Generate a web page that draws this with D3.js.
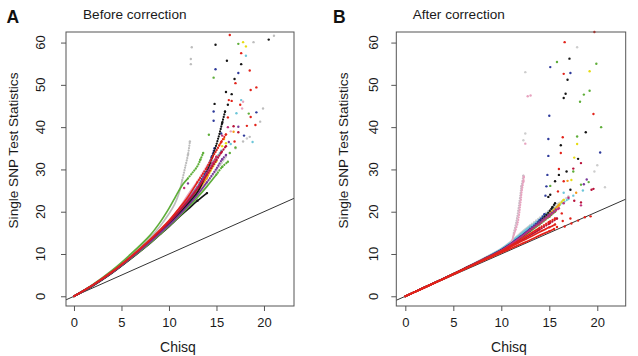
<!DOCTYPE html>
<html><head><meta charset="utf-8">
<script src="https://cdn.jsdelivr.net/npm/d3@7/dist/d3.min.js"></script>
<style>
html,body{margin:0;padding:0;background:#fff;}
svg{display:block;font-family:"Liberation Sans",Arial,Helvetica,sans-serif;}
</style></head><body>
<svg id="chart" width="638" height="356"></svg>
<script>
// ---------- labels / ticks ----------
const panelLetters = ["A", "B"];
const panelTitles = ["Before correction", "After correction"];
const xLabel = "Chisq";
const yLabel = "Single SNP Test Statistics";
const xTicks = [0, 5, 10, 15, 20];
const yTicks = [0, 10, 20, 30, 40, 50, 60];
const refLine = [[-5, -5], [30, 30]]; // y = x

// ---------- Panel A (before correction): [chisq, statistic] ----------
const A_green1_curve = [[0,0],[2,2.8],[4,6.1],[6,10.0],[8,14.4],[9,17.3],[10,20.8],[10.5,22.8],[11,24.8],[11.5,26.6],[12,27.9],[12.5,29.3],[13,30.8],[13.3,32.3],[13.6,33.9]];
const A_green1_tail = [[14.2,38.2],[14.7,51.7],[17.3,59.7]];
const A_green2_curve = [[0,0],[2,2.6],[4,5.6],[6,9.0],[8,12.6],[9,14.6],[10,16.6],[11,18.7],[12,21.0],[13,23.4],[14,26.0],[15,28.8],[15.6,30.6],[16.2,31.8]];
const A_green2_tail = [[16.4,33.9],[17.0,35.2],[18.4,43.2]];
const A_gray_curve = [[0,0],[2,2.7],[4,5.9],[6,9.6],[8,13.8],[9,16.4],[10,19.5],[10.6,21.8],[11,24.0],[11.4,27.5],[11.7,30.5],[12.0,33.5],[12.2,36.6]];
const A_gray_tail = [[12.3,54.9],[12.3,56.1],[12.4,58.9],[18.9,60.1],[21.05,61.6],[19.9,44.4],[19.6,41.3],[18.5,37.7],[17.8,36.6]];
const A_black_curve = [[0,0],[2,2.6],[4,5.7],[6,9.2],[8,13.0],[9,15.0],[10,17.1],[11,19.3],[12,21.8],[13,24.6],[13.8,28.3],[14.2,30.5],[14.7,33.8],[15.2,37.5],[15.6,41.0],[15.9,43.7]];
const A_black_tail = [[14.8,45.5],[16.2,45.3],[16.0,48.3],[16.6,47.8],[16.9,51.4],[17.6,54.9],[16.1,55.7],[14.9,59.5],[20.5,60.7]];
const A_black2_curve = [[0,0],[2,2.5],[4,5.5],[6,8.9],[8,12.5],[9,14.5],[10,16.5],[11,18.6],[12,20.6],[13,22.6],[14,24.4]];
const A_black2_tail = [];
const A_red1_curve = [[0,0],[2,2.7],[4,5.8],[6,9.4],[8,13.4],[9,15.6],[10,17.9],[11,20.6],[12,23.5],[13,27.0],[14,30.5],[14.6,33.0],[15,34.5],[15.5,36.5],[16,38.3]];
const A_red1_tail = [[16.4,61.8],[17.6,57.5],[18.5,53.4],[17.0,50.4],[19.2,49.4],[18.6,48.8],[16.3,46.4],[16.6,46.2],[17.5,45.3],[18.6,42.4],[16.2,42.3],[18.2,40.3],[19.1,40.5],[16.9,36.6]];
const A_red2_curve = [[0,0],[2,2.65],[4,5.7],[6,9.3],[8,13.2],[9,15.3],[10,17.5],[11,19.9],[12,22.5],[13,25.4],[14,28.8],[15,32.2],[15.5,34.0],[16,35.5]];
const A_red2_tail = [[16.8,40.2],[17.3,38.8]];
const A_blue_curve = [[0,0],[2,2.6],[4,5.6],[6,9.1],[8,12.9],[9,14.9],[10,17.0],[11,19.4],[12,22.2],[13,25.6],[13.5,27.8],[14,30.0],[14.5,33.0],[14.8,35.0]];
const A_blue_tail = [[14.7,41.5],[14.7,43.7],[14.9,53.7],[17.3,52.8],[19.2,43.5],[15.5,38.5],[17.9,38.0]];
const A_purple_curve = [[0,0],[2,2.6],[4,5.6],[6,9.1],[8,12.8],[9,14.8],[10,16.8],[11,19.0],[12,21.4],[13,24.0],[14,27.0],[15,30.2],[15.6,32.4],[16,33.4]];
const A_purple_tail = [[17.3,40.1],[16.3,36.5],[12.0,26.7]];
const A_magenta_curve = [[0,0],[2,2.7],[4,5.8],[6,9.4],[8,13.3],[9,15.4],[10,17.6],[11,20.0],[12,22.8],[13,25.8],[14,29.2],[14.6,31.5],[15,33.0]];
const A_magenta_tail = [[15.6,38.0],[16.2,40.0],[11.6,25.6]];
const A_orange_curve = [[0,0],[2,2.6],[4,5.6],[6,9.1],[8,12.8],[9,14.8],[10,16.9],[11,19.1],[12,21.6],[13,24.6],[14,28.0],[14.5,30.5],[15,33.0]];
const A_orange_tail = [[15.3,35.8],[16.8,38.9],[15.8,37.2]];
const A_yellow_curve = [[0,0],[2,2.6],[4,5.6],[6,9.0],[8,12.7],[9,14.6],[10,16.7],[11,19.2],[12,22.2],[13,25.0],[14,28.2],[15,32.0]];
const A_yellow_tail = [[15.6,35.5],[16.0,36.2],[17.8,60.1],[18.1,59.1]];
const A_cyan_curve = [[0,0],[2,2.7],[4,5.9],[6,9.5],[8,13.3],[9,15.3],[10,17.4],[11,20.0],[12,23.0],[13,26.0],[14,29.5],[15,32.8],[15.5,34.4]];
const A_cyan_tail = [[18.1,56.9],[17.6,46.4],[17.1,43.3],[18.8,36.5],[16.5,36.0]];
const A_pink_curve = [[0,0],[2,2.7],[4,5.8],[6,9.4],[8,13.3],[9,15.4],[10,17.7],[11,20.6],[12,24.0],[13,27.2],[14,30.8],[14.6,33.0]];
const A_pink_tail = [[17.8,46.0],[17.7,44.4],[16.5,39.0]];
const A_lgray_curve = [[0,0],[2,2.6],[4,5.6],[6,9.0],[8,12.6],[9,14.5],[10,16.6],[11,18.9],[12,21.5],[13,24.0],[14,26.8],[15,29.8],[16,33.0]];
const A_lgray_tail = [[18.2,37.3],[17.0,35.0]];

// ---------- Panel B (after correction) ----------
const B_red1_curve = [[0,0],[2,2.05],[4,4.1],[6,6.2],[8,8.3],[10,10.3],[11,11.3],[12,12.3],[13,13.3],[14,14.4],[15,15.4],[15.5,15.9]];
const B_red1_tail = [[15.8,16.4],[16.6,16.5],[17.3,17.2],[18.0,17.9],[18.7,18.7],[19.3,18.9]];
const B_red2_curve = [[0,0],[2,2.05],[4,4.15],[6,6.3],[8,8.4],[10,10.5],[11,11.7],[12,12.9],[13,14.0],[14,15.2],[15,16.3],[15.6,17.0]];
const B_red2_tail = [[16.4,17.8],[17.2,18.4]];
const B_red3_curve = [[0,0],[2,2.1],[4,4.2],[6,6.3],[8,8.5],[10,10.7],[11,12.0],[12,13.4],[13,14.8],[14,16.2],[15,17.6],[15.6,18.4]];
const B_red3_tail = [[16.3,19.6],[16.5,52.6],[16.6,60.1],[19.7,62.5],[19.6,43.1],[16.4,37.6],[16.2,33.9],[16.0,30.1],[16.5,27.2],[15.9,24.8]];
const B_crimson_curve = [[0,0],[2,2.1],[4,4.2],[6,6.3],[8,8.45],[10,10.6],[11,11.8],[12,13.1],[13,14.4],[14,15.8],[15,17.2],[15.8,18.4]];
const B_crimson_tail = [[17.6,22.6],[18.3,22.2],[19.4,25.2],[19.6,25.4],[17.5,30.2],[18.3,31.5]];
const B_black_curve = [[0,0],[2,2.1],[4,4.2],[6,6.4],[8,8.6],[10,10.9],[11,12.3],[12,13.9],[13,15.6],[14,17.6],[14.8,19.5],[15.3,21.0],[15.6,22.0]];
const B_black_tail = [[16.7,47.9],[16.5,46.9],[17.1,56.2],[16.9,51.2],[18.8,38.8],[16.2,35.7],[18.0,32.5],[16.8,29.5],[16.0,28.7],[15.6,27.2],[17.2,25.2],[14.9,23.5],[15.1,24.0]];
const B_blue_curve = [[0,0],[2,2.1],[4,4.2],[6,6.35],[8,8.6],[10,11.0],[11,12.5],[12,14.2],[13,16.0],[14,18.0],[14.5,19.4]];
const B_blue_tail = [[15.1,54.2],[17.2,52.8],[15.0,42.7],[14.9,37.2],[14.9,33.2],[20.3,34.0],[14.8,28.7],[14.7,26.0],[14.6,23.8]];
const B_green_curve = [[0,0],[2,2.1],[4,4.2],[6,6.3],[8,8.5],[10,10.8],[11,12.2],[12,13.7],[13,15.3],[14,17.0],[15,18.8],[15.6,20.0]];
const B_green_tail = [[15.8,55.4],[19.9,55.0],[19.2,48.6],[18.6,47.7],[18.2,46.0],[20.4,40.0],[17.9,37.8],[17.5,29.5],[18.3,26.4],[19.1,27.0],[15.1,26.1]];
const B_yellow_curve = [[0,0],[2,2.1],[4,4.2],[6,6.3],[8,8.5],[10,10.8],[11,12.2],[12,13.8],[13,15.5],[14,17.3],[15,19.4],[16,21.6],[16.5,22.8]];
const B_yellow_tail = [[19.2,53.2],[17.9,36.0],[17.6,32.8],[17.3,27.5]];
const B_orange_curve = [[0,0],[2,2.1],[4,4.2],[6,6.35],[8,8.6],[10,10.9],[11,12.3],[12,13.9],[13,15.7],[14,17.6],[15,19.6],[16,21.5]];
const B_orange_tail = [[16.9,27.3],[17.8,24.5]];
const B_cyan_curve = [[0,0],[2,2.1],[4,4.25],[6,6.4],[8,8.7],[10,11.2],[11,12.8],[12,14.7],[13,16.5],[14,18.2],[15,20.0],[16,21.5],[17,23.0]];
const B_cyan_tail = [[17.5,23.8],[18.5,25.0],[16.5,24.5]];
const B_lgray_curve = [[0,0],[2,2.1],[4,4.25],[6,6.45],[8,8.8],[10,11.3],[11,13.0],[12,15.0],[13,16.8],[14,18.6],[15,20.3],[16,22.0],[17,23.6]];
const B_lgray_tail = [[17.9,58.9],[20.0,31.0],[20.8,25.8],[19.7,29.5],[12.5,53.0],[12.5,38.5],[12.3,36.9]];
const B_pink_curve = [[0,0],[2,2.1],[4,4.2],[6,6.4],[8,8.6],[10,10.7],[10.9,11.8],[11.25,14.1],[11.5,15.8],[11.7,17.3],[11.85,19.3],[11.95,21.2],[12.05,23.0],[12.1,24.4],[12.2,25.8],[12.3,27.2],[12.35,28.2]];
const B_pink_tail = [[12.5,36.1],[12.75,47.3],[13.05,47.5]];
const B_grayv_curve = [[0,0],[2,2.1],[4,4.2],[6,6.4],[8,8.7],[10,10.9],[11,12.6],[11.3,15.0],[11.6,18.0],[11.9,22.5],[12.1,26.0],[12.3,28.5]];
const B_grayv_tail = [];
const B_purple_curve = [[0,0],[2,2.1],[4,4.2],[6,6.35],[8,8.6],[10,10.9],[11,12.4],[12,14.0],[13,15.8],[14,17.6],[15,19.3],[15.7,20.5]];
const B_purple_tail = [[18.9,27.6],[18.6,26.5]];
const B_magenta_curve = [[0,0],[2,2.1],[4,4.2],[6,6.35],[8,8.55],[10,10.8],[11,12.3],[12,13.9],[13,15.6],[14,17.2],[15,19.0],[16,20.8]];
const B_magenta_tail = [[16.5,22.0],[17.0,23.3],[18.3,21.5]];

// ---------- colours ----------
const palette = {
  green: "#5fae3a", gray: "#bdbdbd", black: "#151515", red: "#e2231a", crimson: "#b8123a",
  blue: "#2e3a9a", purple: "#7a3a9a", magenta: "#c2307a", orange: "#f59a1b", yellow: "#e6dc12",
  cyan: "#6cc6d9", pink: "#e7a3bf", lgray: "#cdcdcd", grayv: "#cdb9c6"
};

// draw order (later on top)
const seriesA = [
  ["lgray", A_lgray_curve, A_lgray_tail], ["cyan", A_cyan_curve, A_cyan_tail],
  ["yellow", A_yellow_curve, A_yellow_tail], ["orange", A_orange_curve, A_orange_tail],
  ["pink", A_pink_curve, A_pink_tail], ["blue", A_blue_curve, A_blue_tail],
  ["black", A_black2_curve, A_black2_tail], ["green", A_green2_curve, A_green2_tail],
  ["gray", A_gray_curve, A_gray_tail], ["green", A_green1_curve, A_green1_tail],
  ["black", A_black_curve, A_black_tail], ["purple", A_purple_curve, A_purple_tail],
  ["magenta", A_magenta_curve, A_magenta_tail], ["crimson", A_red2_curve, A_red2_tail],
  ["red", A_red1_curve, A_red1_tail]
];
const seriesB = [
  ["lgray", B_lgray_curve, B_lgray_tail], ["cyan", B_cyan_curve, B_cyan_tail],
  ["grayv", B_grayv_curve, B_grayv_tail], ["pink", B_pink_curve, B_pink_tail],
  ["yellow", B_yellow_curve, B_yellow_tail], ["orange", B_orange_curve, B_orange_tail],
  ["green", B_green_curve, B_green_tail], ["blue", B_blue_curve, B_blue_tail],
  ["black", B_black_curve, B_black_tail], ["purple", B_purple_curve, B_purple_tail],
  ["magenta", B_magenta_curve, B_magenta_tail], ["crimson", B_crimson_curve, B_crimson_tail],
  ["red", B_red3_curve, B_red3_tail], ["red", B_red2_curve, B_red2_tail],
  ["red", B_red1_curve, B_red1_tail]
];

const svg = d3.select("#chart");
const textColor = "#1a1a1a";

function drawPanel(p) {
  const x = d3.scaleLinear().domain(p.xDomain).range([p.left, p.right]);
  const y = d3.scaleLinear().domain(p.yDomain).range([p.bottom, p.top]);
  const g = svg.append("g");
  const clipId = "clip" + p.idx;
  g.append("clipPath").attr("id", clipId).append("rect")
    .attr("x", p.left).attr("y", p.top - 3).attr("width", p.right - p.left).attr("height", p.bottom - p.top + 3);

  const plot = g.append("g").attr("clip-path", `url(#${clipId})`);
  const line = d3.line().x(d => x(d[0])).y(d => y(d[1])).curve(d3.curveCatmullRom);

  // reference line y = x
  plot.append("path").datum(refLine)
    .attr("d", d3.line().x(d => x(d[0])).y(d => y(d[1])))
    .attr("fill", "none").attr("stroke", "#333").attr("stroke-width", 1);

  p.series.forEach(([col, curve, tail]) => {
    const c = palette[col];
    // dense lower part: solid; sparser upper part: dotted
    let k = curve.findIndex(d => d[1] > p.solidMax);
    if (k < 0) k = curve.length;
    const solid = curve.slice(0, Math.max(k, 2));
    const dotted = curve.slice(Math.max(k - 1, 0));
    plot.append("path").datum(solid).attr("d", line)
      .attr("fill", "none").attr("stroke", c).attr("stroke-width", 1.7).attr("stroke-linecap", "round");
    if (dotted.length > 1) {
      plot.append("path").datum(dotted).attr("d", line)
        .attr("fill", "none").attr("stroke", c).attr("stroke-width", 2.2)
        .attr("stroke-dasharray", "0.1 2.4").attr("stroke-linecap", "round");
    }
    plot.selectAll(null).data(curve.slice(-2).concat(tail)).enter().append("circle")
      .attr("cx", d => x(d[0])).attr("cy", d => y(d[1])).attr("r", 1.2).attr("fill", c);
  });

  // box
  g.append("rect").attr("x", p.left).attr("y", p.top).attr("width", p.right - p.left).attr("height", p.bottom - p.top)
    .attr("fill", "none").attr("stroke", "#555").attr("stroke-width", 1);

  // x axis
  const xAxis = d3.axisBottom(x).tickValues(xTicks).tickSize(5).tickPadding(7).tickFormat(d3.format("d"));
  const xg = g.append("g").attr("transform", `translate(0,${p.bottom})`).call(xAxis);
  xg.select(".domain").remove();
  xg.selectAll(".tick line").attr("stroke", "#555");
  xg.selectAll(".tick text").attr("font-size", 13).attr("fill", textColor)
    .attr("font-family", '"Liberation Sans",Arial,sans-serif');

  // y axis (rotated labels)
  const yAxis = d3.axisLeft(y).tickValues(yTicks).tickSize(5).tickFormat(d3.format("d"));
  const yg = g.append("g").attr("transform", `translate(${p.left},0)`).call(yAxis);
  yg.select(".domain").remove();
  yg.selectAll(".tick line").attr("stroke", "#555");
  yg.selectAll(".tick text").remove();
  g.selectAll(null).data(yTicks).enter().append("text")
    .attr("transform", d => `translate(${p.yTickBase},${y(d)}) rotate(-90)`)
    .attr("text-anchor", "middle").attr("font-size", 13).attr("fill", textColor).text(d => d);

  // axis titles
  g.append("text").attr("x", p.xLabelX).attr("y", 352).attr("text-anchor", "middle")
    .attr("font-size", 14).attr("fill", textColor).text(xLabel);
  g.append("text").attr("transform", `translate(${p.yLabelBase},150.5) rotate(-90)`).attr("text-anchor", "middle")
    .attr("font-size", 13.6).attr("fill", textColor).text(yLabel);

  // letter and title
  g.append("text").attr("x", p.letterX).attr("y", 23.3).attr("font-size", 17.5).attr("font-weight", "bold")
    .attr("fill", "#111").text(panelLetters[p.idx]);
  g.append("text").attr("x", p.titleX).attr("y", 18.5).attr("font-size", 13.6)
    .attr("fill", textColor).text(panelTitles[p.idx]);
}

drawPanel({ idx: 0, left: 66, right: 294, top: 32, bottom: 306, xDomain: [-0.84, 23.16], yDomain: [-2.3, 62.5],
  series: seriesA, solidMax: 29, yTickBase: 45, yLabelBase: 18, xLabelX: 178, letterX: 6.5, titleX: 83 });
drawPanel({ idx: 1, left: 396.3, right: 625.7, top: 32, bottom: 306, xDomain: [-0.94, 22.96], yDomain: [-2.3, 62.5],
  series: seriesB, solidMax: 17, yTickBase: 377.5, yLabelBase: 348, xLabelX: 509, letterX: 333, titleX: 412.7 });
</script>
</body></html>
